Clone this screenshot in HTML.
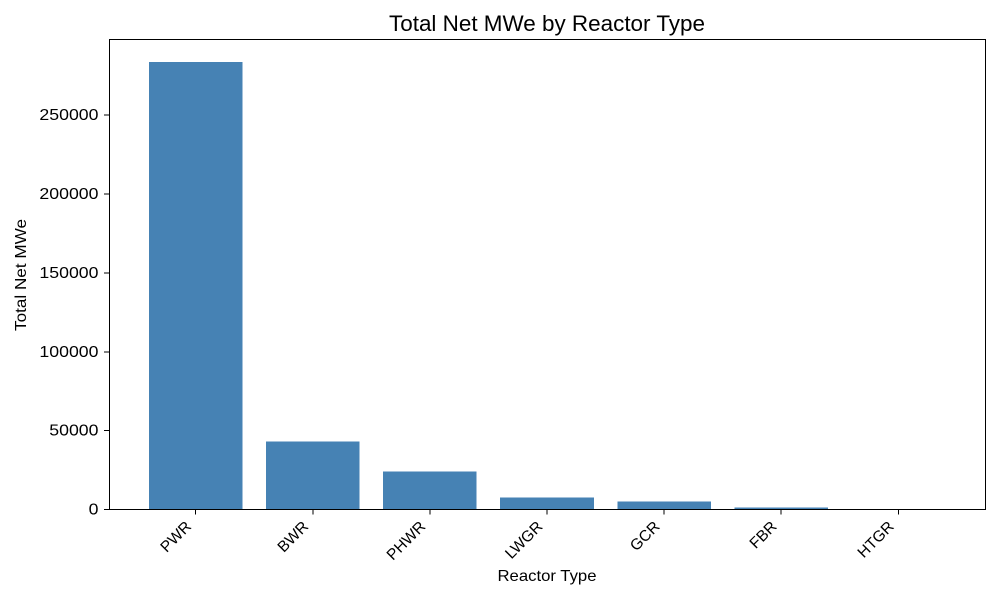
<!DOCTYPE html>
<html>
<head>
<meta charset="utf-8">
<style>
html,body{margin:0;padding:0;background:#fff;}
svg{display:block;}
text{font-family:"Liberation Sans",sans-serif;fill:#000;}
rect,line{shape-rendering:crispEdges;}
</style>
</head>
<body>
<svg id="chart" xmlns="http://www.w3.org/2000/svg" width="1000" height="600" viewBox="0 0 1000 600"></svg>
<script>
const categories = ["PWR", "BWR", "PHWR", "LWGR", "GCR", "FBR", "HTGR"];
const totalNetMWe = [283800, 43200, 24100, 7600, 5000, 1300, 200];
const yTickValues = [0, 50000, 100000, 150000, 200000, 250000];
const yTickLabels = ["0", "50000", "100000", "150000", "200000", "250000"];

const NS = "http://www.w3.org/2000/svg";
const svg = document.getElementById("chart");
const plot = {left: 109, right: 985, top: 39.5, bottom: 509.5};
const maxValue = Math.max(...totalNetMWe);
const yMax = maxValue * 1.05;
const step = (plot.right - plot.left) / ((categories.length - 1 + 0.8) * 1.1);
const xScale = i => plot.left + (i + 0.4 + 0.05 * (categories.length - 1 + 0.8)) * step;
const yScale = v => plot.bottom - (v / yMax) * (plot.bottom - plot.top);

function make(tag, attrs, text) {
  const el = document.createElementNS(NS, tag);
  for (const k in attrs) el.setAttribute(k, attrs[k]);
  if (text !== undefined) el.textContent = text;
  svg.appendChild(el);
  return el;
}

categories.forEach((c, i) => {
  const w = step * 0.8;
  const y = yScale(totalNetMWe[i]);
  const bar = make("rect", {x: xScale(i) - w / 2, y: y, width: w, height: plot.bottom - y, fill: "#4682b4"});
  
  
});

const frame = make("rect", {x: plot.left + 0.5, y: plot.top, width: plot.right - plot.left, height: plot.bottom - plot.top, fill: "none", stroke: "#000", "stroke-width": 1});



yTickValues.forEach((v, i) => {
  const y = yScale(v);
  const tick = make("line", {x1: plot.left - 5, x2: plot.left, y1: y, y2: y, stroke: "#000", "stroke-width": 1});
  
  
  const label = make("text", {x: plot.left - 10.5, y: y + 5, "text-anchor": "end", "font-size": 16, textLength: yTickLabels[i].length * 9.85, lengthAdjust: "spacingAndGlyphs"}, yTickLabels[i]);
  
  
});

categories.forEach((c, i) => {
  const x = xScale(i);
  const tick = make("line", {x1: x, x2: x, y1: plot.bottom, y2: plot.bottom + 5, stroke: "#000", "stroke-width": 1});
  
  
  const ax = x - 3.5;
  const ay = plot.bottom + 18;
  const label = make("text", {x: ax, y: ay, "text-anchor": "end", "font-size": 15.5, transform: "rotate(-45 " + ax + " " + ay + ")"}, c);
  
  
});

const title = make("text", {x: 547, y: 31, "text-anchor": "middle", "font-size": 22.5, textLength: 316, lengthAdjust: "spacingAndGlyphs"}, "Total Net MWe by Reactor Type");



const xTitle = make("text", {x: 547, y: 581, "text-anchor": "middle", "font-size": 16, textLength: 99, lengthAdjust: "spacingAndGlyphs"}, "Reactor Type");



const yTitle = make("text", {x: 0, y: 0, "text-anchor": "middle", "font-size": 16, textLength: 112, lengthAdjust: "spacingAndGlyphs", transform: "translate(26 275) rotate(-90)"}, "Total Net MWe");


</script>
</body>
</html>
